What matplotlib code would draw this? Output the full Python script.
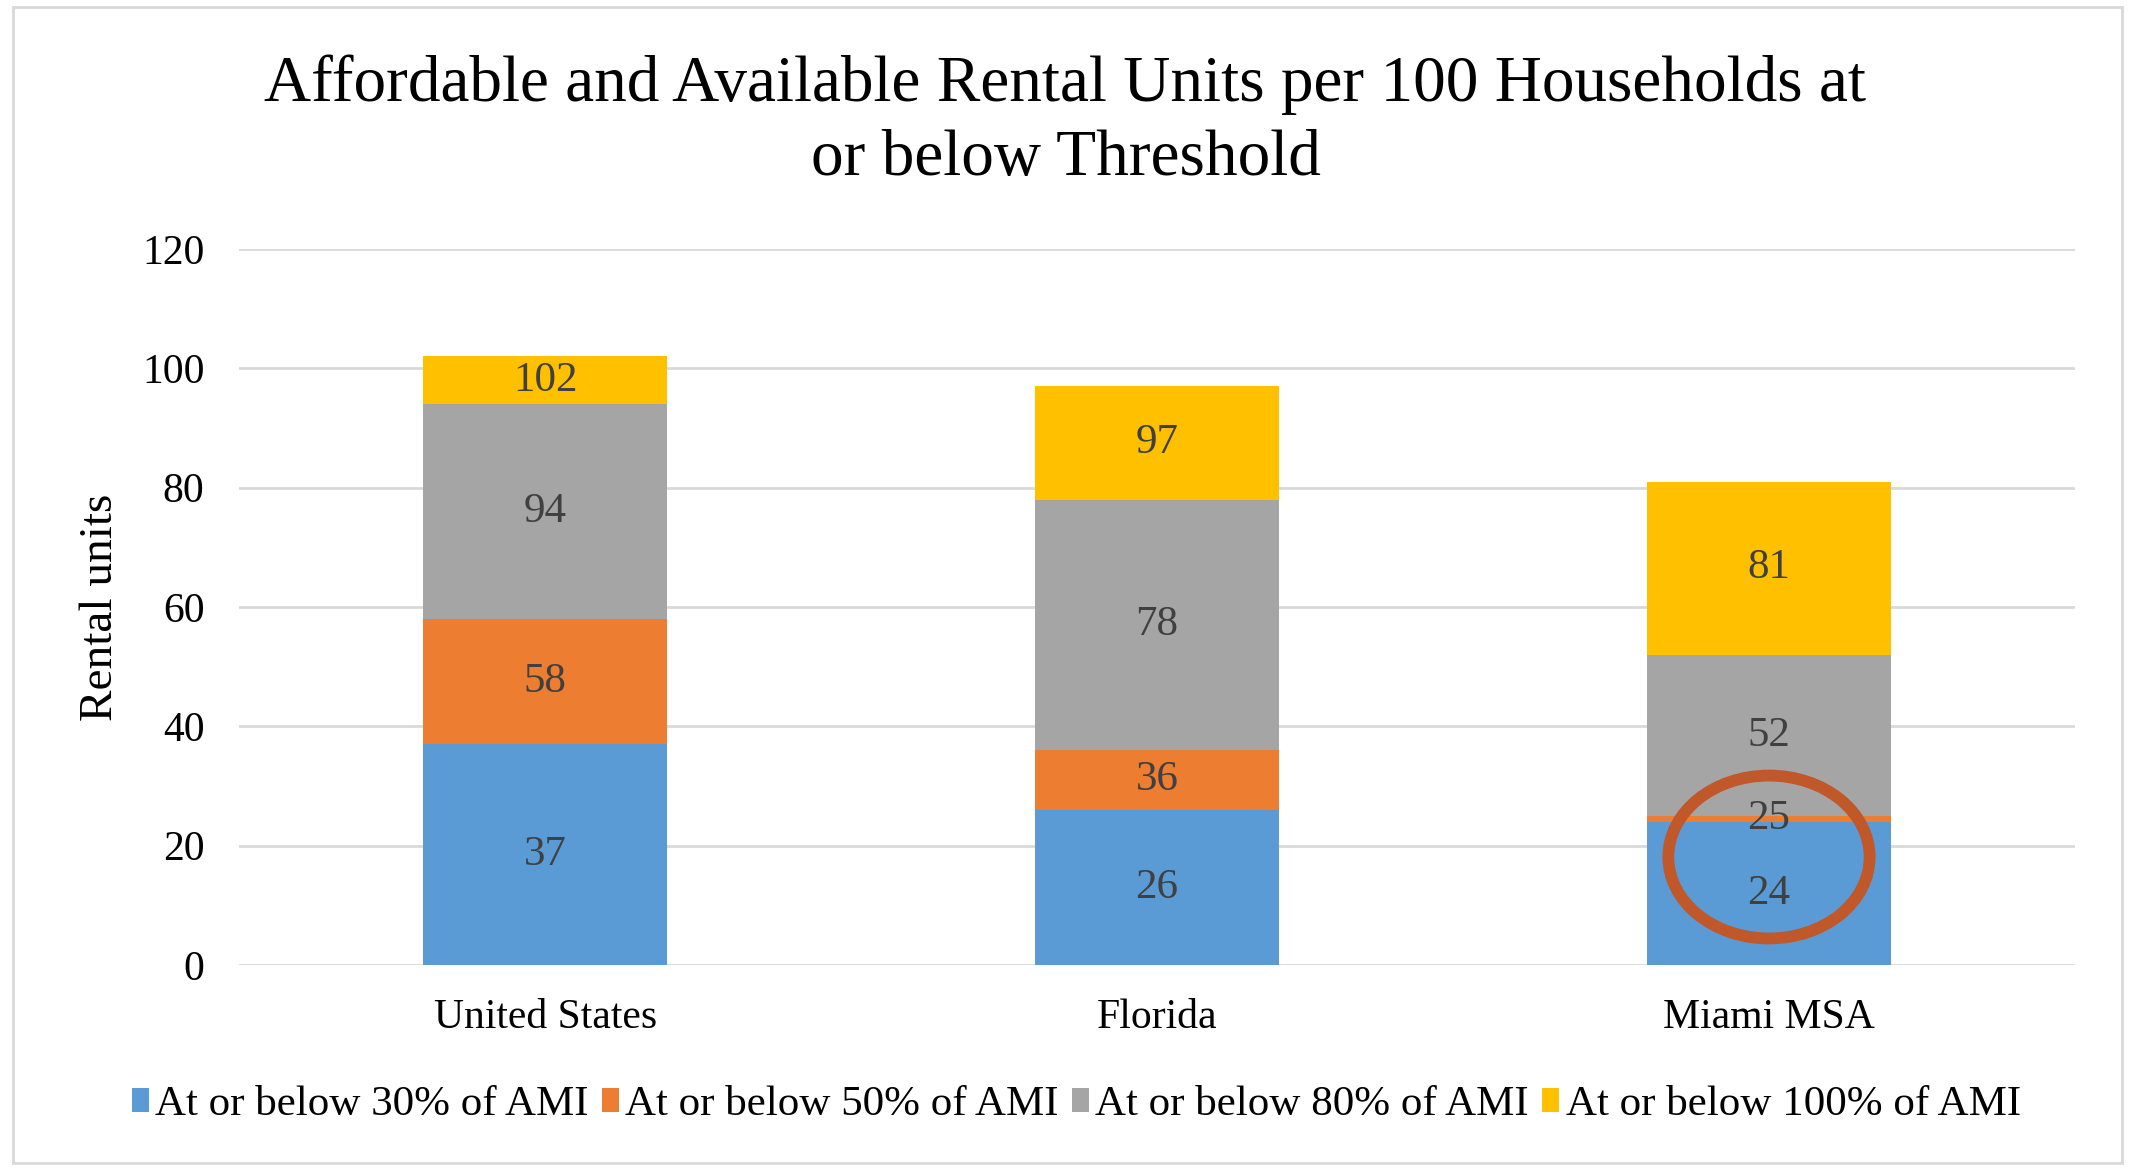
import matplotlib.pyplot as plt
from matplotlib.patches import Ellipse, Rectangle
import numpy as np

plt.rcParams['font.family'] = ['Liberation Serif', 'DejaVu Serif']

# cumulative units per 100 households at or below each threshold
places = ['United States', 'Florida', 'Miami MSA']
series = ['At or below 30% of AMI', 'At or below 50% of AMI',
          'At or below 80% of AMI', 'At or below 100% of AMI']
ami30 = [37, 26, 24]
ami50 = [58, 36, 25]
ami80 = [94, 78, 52]
ami100 = [102, 97, 81]
colors = ['#5B9BD5', '#ED7D31', '#A5A5A5', '#FFC000']

cum = np.array([ami30, ami50, ami80, ami100], dtype=float)
seg = np.vstack([cum[0], np.diff(cum, axis=0)])

fig = plt.figure(figsize=(21.31, 11.68), dpi=100)
ax = fig.add_axes([0.1122, 0.1738, 0.8615, 0.613])

x = np.arange(len(places))
bottom = np.zeros(len(places))
for i in range(4):
    bars = ax.bar(x, seg[i], 0.4, bottom=bottom, color=colors[i],
                  label=series[i], zorder=2)
    ax.bar_label(bars, labels=[str(int(v)) for v in cum[i]], label_type='center',
                 fontsize=31, color='#404040')
    bottom += seg[i]

ax.set_xlim(-0.5, 2.5)
ax.set_ylim(0, 120)
ax.set_yticks(range(0, 121, 20))
ax.set_xticks(x)
ax.set_xticklabels(places)
ax.tick_params(axis='both', length=0, labelsize=30)
ax.tick_params(axis='y', pad=25)
ax.tick_params(axis='x', pad=24)
ax.grid(axis='y', color='#D9D9D9', linewidth=2, zorder=0)
ax.set_axisbelow(True)
for s in ax.spines.values():
    s.set_visible(False)
ax.set_ylabel('Rental units', fontsize=34, labelpad=14)

fig.suptitle('Affordable and Available Rental Units per 100 Households at\nor below Threshold',
             fontsize=47, y=0.896, va='center', linespacing=1.32)

fig.legend(loc='center', bbox_to_anchor=(0.505, 0.054), ncol=4, frameon=False,
           fontsize=31, handlelength=0.4, handleheight=0.5, handletextpad=0.15,
           columnspacing=0.3)

# red circle highlighting Miami's lowest thresholds
ax.add_patch(Ellipse((2, 18.1), 0.329, 27.3, fill=False, edgecolor='#C0582A',
                     linewidth=8.5, zorder=5))

# outer chart border
fig.patches.append(Rectangle((0.006, 0.004), 0.99, 0.99, transform=fig.transFigure,
                             fill=False, edgecolor='#D9D9D9', linewidth=2))

fig.savefig('out.png', dpi=100)
